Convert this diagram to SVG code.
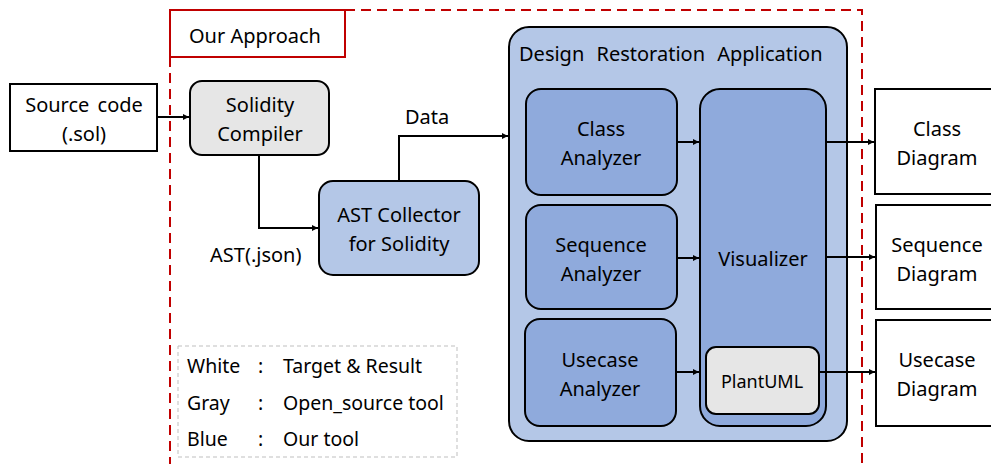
<svg xmlns="http://www.w3.org/2000/svg" width="991" height="464" viewBox="0 0 991 464">
<defs>
<marker id="ah" viewBox="0 0 10 10" refX="10" refY="5" markerWidth="6" markerHeight="6" markerUnits="userSpaceOnUse" orient="auto"><path d="M0,0 L10,5 L0,10 z" fill="#000"/></marker>
<style>
text{font-family:"Noto Sans","Open Sans",sans-serif;font-size:20px;fill:#000}
.c{text-anchor:middle}
.lg{font-size:19.5px}
.w{fill:#fff;stroke:#000;stroke-width:2}
.g{fill:#e6e6e6;stroke:#000;stroke-width:2}
.b1{fill:#b4c7e7;stroke:#000;stroke-width:2}
.b2{fill:#8faadc;stroke:#000;stroke-width:2}
.ln{fill:none;stroke:#000;stroke-width:2;marker-end:url(#ah)}
.red{fill:none;stroke:#c00000;stroke-width:2}
</style>
</defs>
<rect width="991" height="464" fill="#fff"/>
<g id="approach-frame">
<path class="red" d="M345,10 H862 V464 M170,57 V464" stroke-dasharray="10,6"/>
<rect class="red" x="170" y="10" width="175" height="47"/>
<text x="189" y="43">Our Approach</text>
</g>
<g id="source"><rect class="w" x="10" y="84" width="147" height="67"/><text class="c" x="84" y="112" style="word-spacing:3px">Source code</text><text class="c" x="84" y="141">(.sol)</text></g>
<g id="compiler"><rect class="g" x="190" y="81" width="139" height="74" rx="12"/><text class="c" x="260" y="112">Solidity</text><text class="c" x="260" y="141">Compiler</text></g>
<g id="collector"><rect class="b1" x="319" y="181" width="160" height="94" rx="14"/><text class="c" x="399" y="222">AST Collector</text><text class="c" x="399" y="251">for Solidity</text></g>
<g id="dra"><rect class="b1" x="509" y="27" width="338" height="414" rx="20"/><text x="519" y="61" style="word-spacing:7px">Design Restoration Application</text></g>
<g id="class-analyzer"><rect class="b2" x="526" y="89" width="151" height="106" rx="15"/><text class="c" x="601" y="136">Class</text><text class="c" x="601" y="165">Analyzer</text></g>
<g id="sequence-analyzer"><rect class="b2" x="526" y="205" width="151" height="104" rx="15"/><text class="c" x="601" y="252">Sequence</text><text class="c" x="601" y="281">Analyzer</text></g>
<g id="usecase-analyzer"><rect class="b2" x="525" y="319" width="151" height="107" rx="15"/><text class="c" x="600" y="367">Usecase</text><text class="c" x="600" y="396">Analyzer</text></g>
<g id="visualizer"><rect class="b2" x="700" y="89" width="126" height="337" rx="20"/><text class="c" x="763" y="266">Visualizer</text></g>
<g id="plantuml"><rect class="g" x="706" y="347" width="113" height="67" rx="10"/><text class="c" x="762" y="388" style="font-size:18px">PlantUML</text></g>
<g id="class-diagram"><rect class="w" x="875" y="89" width="120" height="105"/><text class="c" x="937" y="136">Class</text><text class="c" x="937" y="165">Diagram</text></g>
<g id="sequence-diagram"><rect class="w" x="876" y="205" width="120" height="104"/><text class="c" x="937" y="252">Sequence</text><text class="c" x="937" y="281">Diagram</text></g>
<g id="usecase-diagram"><rect class="w" x="876" y="320" width="120" height="106"/><text class="c" x="937" y="367">Usecase</text><text class="c" x="937" y="396">Diagram</text></g>
<g id="legend">
<rect x="178" y="346" width="279" height="111" fill="none" stroke="#bfbfbf" stroke-width="1" stroke-dasharray="4,3"/>
<text class="lg" x="187" y="373">White</text><text class="lg" x="258" y="373">:</text><text class="lg" x="283" y="373">Target &amp; Result</text>
<text class="lg" x="187" y="410">Gray</text><text class="lg" x="258" y="410">:</text><text class="lg" x="283" y="410">Open_source tool</text>
<text class="lg" x="187" y="446">Blue</text><text class="lg" x="258" y="446">:</text><text class="lg" x="283" y="446">Our tool</text>
</g>
<g id="connectors">
<path class="ln" d="M157,117 H189"/>
<path class="ln" d="M259,155 V228 H318"/>
<path class="ln" d="M399,181 V136 H508"/>
<path class="ln" d="M677,142 H699"/>
<path class="ln" d="M677,258 H699"/>
<path class="ln" d="M676,372 H699"/>
<path class="ln" d="M826,142 H874"/>
<path class="ln" d="M826,257 H875"/>
<path class="ln" d="M819,372 H875"/>
<text x="405" y="124">Data</text>
<text x="210" y="262">AST(.json)</text>
</g>
</svg>
